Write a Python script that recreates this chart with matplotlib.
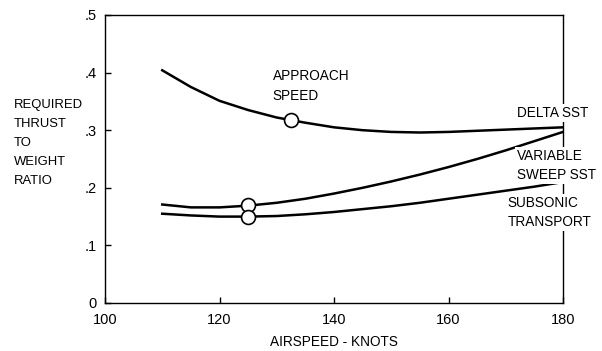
import matplotlib
matplotlib.use("Agg")
import matplotlib.pyplot as plt

plt.rcParams["font.family"] = ["Liberation Sans", "DejaVu Sans"]

airspeed = [110, 115, 120, 125, 130, 135, 140, 145, 150, 155, 160, 165, 170, 175, 180]
delta_sst = [0.404, 0.375, 0.351, 0.335, 0.322, 0.313, 0.305, 0.300, 0.297, 0.296, 0.297, 0.299, 0.301, 0.303, 0.305]
variable_sweep = [0.171, 0.166, 0.166, 0.169, 0.174, 0.181, 0.190, 0.200, 0.211, 0.223, 0.236, 0.250, 0.265, 0.281, 0.297]
subsonic = [0.155, 0.152, 0.150, 0.150, 0.151, 0.154, 0.158, 0.163, 0.168, 0.174, 0.181, 0.188, 0.195, 0.202, 0.210]

approach_x = [132.5, 125, 125]
approach_y = [0.318, 0.170, 0.150]

xticks = [100, 120, 140, 160, 180]
yticks = [0, 0.1, 0.2, 0.3, 0.4, 0.5]
ytick_labels = ["0", ".1", ".2", ".3", ".4", ".5"]

fig = plt.figure(figsize=(6.02, 3.51), dpi=100)
ax = fig.add_axes([105/602, 1 - 303/351, (563-105)/602, (303-15)/351])

for ys in (delta_sst, variable_sweep, subsonic):
    ax.plot(airspeed, ys, color="black", lw=1.8, zorder=2)
ax.plot(approach_x, approach_y, "o", ms=10, mfc="white", mec="black", mew=1.2, zorder=3)

ax.set_xlim(100, 180)
ax.set_ylim(0, 0.5)
ax.set_xticks(xticks)
ax.set_xticklabels([str(v) for v in xticks])
ax.set_yticks(yticks)
ax.set_yticklabels(ytick_labels)
ax.tick_params(direction="in", length=4, width=1, labelsize=10.5)
ax.tick_params(axis="y", pad=6)
ax.tick_params(axis="x", pad=7)
for s in ax.spines.values():
    s.set_linewidth(1.0)
    s.set_zorder(1)

fs = 9.8
ax.set_xlabel("AIRSPEED - KNOTS", fontsize=fs, labelpad=6)
fig.text(14/602, 1 - 143/351, "REQUIRED\nTHRUST\nTO\nWEIGHT\nRATIO", fontsize=9.4,
         ha="left", va="center", linespacing=1.78)

box = dict(facecolor="white", edgecolor="none", pad=1.5)
ax.text(129.3, 0.406, "APPROACH\nSPEED", fontsize=fs, ha="left", va="top", linespacing=1.5)
ax.text(172.0, 0.330, "DELTA SST", fontsize=fs, ha="left", va="center", bbox=box, clip_on=False, zorder=5)
ax.text(172.0, 0.239, "VARIABLE\nSWEEP SST", fontsize=fs, ha="left", va="center",
        linespacing=1.5, bbox=box, clip_on=False, zorder=5)
ax.text(170.3, 0.157, "SUBSONIC\nTRANSPORT", fontsize=fs, ha="left", va="center",
        linespacing=1.5, bbox=box, clip_on=False, zorder=5)

fig.savefig("out.png", dpi=100)
